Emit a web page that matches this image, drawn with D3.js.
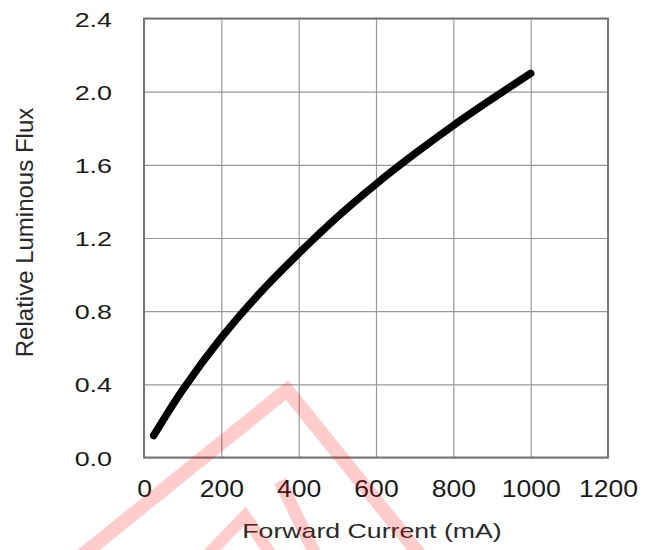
<!DOCTYPE html>
<html>
<head>
<meta charset="utf-8">
<script src="https://cdn.jsdelivr.net/npm/d3@7"></script>
<style>
  body { margin: 0; background: #fff; }
  svg { display: block; font-family: "Liberation Sans", Arial, sans-serif; }
</style>
</head>
<body>
<script>
// values
const currentMA = [25, 100, 200, 300, 400, 500, 600, 700, 800, 900, 1000];
const relFlux = [0.12, 0.37, 0.655, 0.9, 1.115, 1.315, 1.495, 1.66, 1.815, 1.96, 2.1];
const xTicks = [0, 200, 400, 600, 800, 1000, 1200];
const yTicks = [0, 0.4, 0.8, 1.2, 1.6, 2.0, 2.4];

const W = 653, H = 550;
const margin = { top: 18.5, right: 45, bottom: 92.5, left: 144 };
const w = W - margin.left - margin.right;
const h = H - margin.top - margin.bottom;

const svg = d3.select("body").append("svg")
  .attr("width", W)
  .attr("height", H);

const g = svg.append("g")
  .attr("transform", `translate(${margin.left},${margin.top})`);

const x = d3.scaleLinear().domain([0, 1200]).range([0, w]);
const y = d3.scaleLinear().domain([0, 2.4]).range([h, 0]);

// stretch text horizontally like the original
function stretch(sel, k) {
  sel.each(function () {
    const len = this.getComputedTextLength();
    d3.select(this).attr("textLength", len * k).attr("lengthAdjust", "spacingAndGlyphs");
  });
}

const gx = g.append("g")
  .attr("transform", `translate(0,${h})`)
  .call(d3.axisBottom(x).tickValues(xTicks).tickSize(-h).tickFormat(d3.format("d")));
gx.select(".domain").remove();
gx.selectAll("line").attr("stroke", "#9a9a9a").attr("stroke-width", 1.2);
gx.selectAll("text")
  .attr("y", 39.5).attr("dy", null)
  .attr("fill", "#1a1a1a")
  .style("font-size", "23.5px")
  .call(stretch, 1.13);

const gy = g.append("g")
  .call(d3.axisLeft(y).tickValues(yTicks).tickSize(-w).tickFormat(d3.format(".1f")));
gy.select(".domain").remove();
gy.selectAll("line").attr("stroke", "#9a9a9a").attr("stroke-width", 1.2);
gy.selectAll("text")
  .attr("x", -32).attr("dy", "0.36em")
  .attr("fill", "#1a1a1a")
  .style("font-size", "21px")
  .call(stretch, 1.28);

// frame
g.append("rect")
  .attr("width", w).attr("height", h)
  .attr("fill", "none")
  .attr("stroke", "#777")
  .attr("stroke-width", 2);

const line = d3.line()
  .x((d, i) => x(currentMA[i]))
  .y(d => y(d))
  .curve(d3.curveCatmullRom);

g.append("path")
  .datum(relFlux)
  .attr("fill", "none")
  .attr("stroke", "#000")
  .attr("stroke-width", 7.5)
  .attr("stroke-linecap", "round")
  .attr("stroke-linejoin", "round")
  .attr("d", line);

// axis titles
svg.append("text")
  .attr("x", margin.left + w / 2 - 4)
  .attr("y", 537.5)
  .attr("text-anchor", "middle")
  .attr("fill", "#2a2a2a")
  .style("font-size", "21px")
  .text("Forward Current (mA)")
  .call(stretch, 1.27);

svg.append("text")
  .attr("transform", `translate(33,${232.5}) rotate(-90)`)
  .attr("text-anchor", "middle")
  .attr("fill", "#2a2a2a")
  .style("font-size", "24px")
  .text("Relative Luminous Flux");

// pink watermark over the bottom
const wm = svg.append("g")
  .attr("fill", "none")
  .attr("stroke", "rgba(255,0,0,0.2)")
  .attr("stroke-linejoin", "miter");
wm.append("polyline").attr("points", "70,565 287,390 428,565").attr("stroke-width", 14);
wm.append("polyline").attr("points", "198,565 245,516 278,565").attr("stroke-width", 12);
wm.append("line").attr("x1", 280).attr("y1", 481).attr("x2", 318).attr("y2", 560).attr("stroke-width", 13);
</script>
</body>
</html>
